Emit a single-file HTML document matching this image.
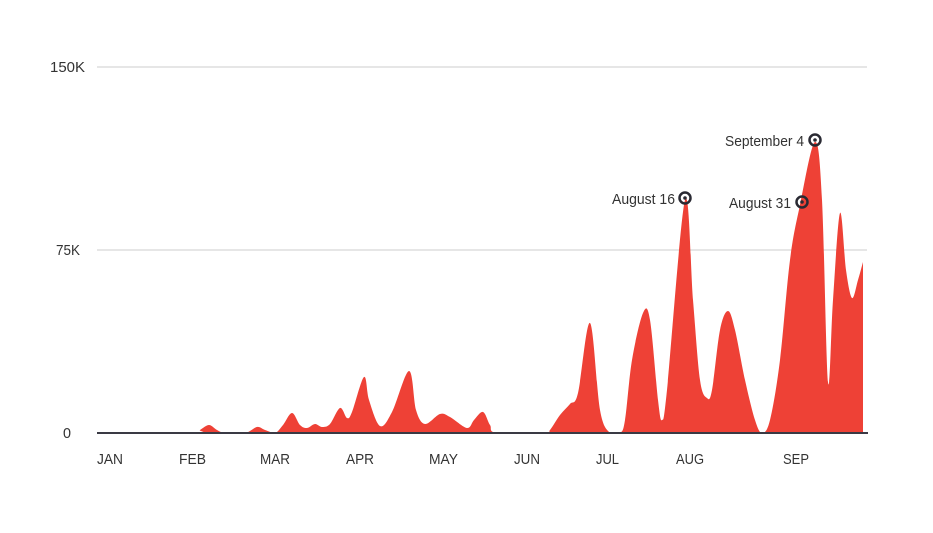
<!DOCTYPE html>
<html><head><meta charset="utf-8"><style>
body{margin:0;background:#fff;}
svg{display:block;}
text{font-family:"Liberation Sans",sans-serif;fill:#333;font-size:15px;}
</style></head><body>
<svg width="933" height="533" viewBox="0 0 933 533">
<line x1="97" y1="67" x2="867" y2="67" stroke="#ccc" stroke-width="1"/>
<line x1="97" y1="250" x2="867" y2="250" stroke="#ccc" stroke-width="1"/>
<text x="50" y="72" textLength="35" lengthAdjust="spacingAndGlyphs">150K</text>
<text x="56" y="255" textLength="24" lengthAdjust="spacingAndGlyphs">75K</text>
<text x="63" y="438" textLength="8" lengthAdjust="spacingAndGlyphs">0</text>
<path id="area" fill="#ee4136" d=""/>
<line x1="97" y1="433" x2="868" y2="433" stroke="#3a3a44" stroke-width="2"/>
<g>
<text x="97" y="464" textLength="26" lengthAdjust="spacingAndGlyphs">JAN</text>
<text x="179" y="464" textLength="27" lengthAdjust="spacingAndGlyphs">FEB</text>
<text x="260" y="464" textLength="30" lengthAdjust="spacingAndGlyphs">MAR</text>
<text x="346" y="464" textLength="28" lengthAdjust="spacingAndGlyphs">APR</text>
<text x="429" y="464" textLength="29" lengthAdjust="spacingAndGlyphs">MAY</text>
<text x="514" y="464" textLength="26" lengthAdjust="spacingAndGlyphs">JUN</text>
<text x="596" y="464" textLength="23" lengthAdjust="spacingAndGlyphs">JUL</text>
<text x="676" y="464" textLength="28" lengthAdjust="spacingAndGlyphs">AUG</text>
<text x="783" y="464" textLength="26" lengthAdjust="spacingAndGlyphs">SEP</text>
</g>
<g fill="none" stroke="#2a2a33" stroke-width="2.5">
<circle cx="685" cy="198" r="5.5"/><circle cx="802" cy="202" r="5.5"/><circle cx="815" cy="140" r="5.5"/>
</g>
<g fill="#2a2a33"><circle cx="685" cy="198" r="1.8"/><circle cx="802" cy="202" r="1.8"/><circle cx="815" cy="140" r="1.8"/></g>
<g>
<text x="612" y="204" textLength="63" lengthAdjust="spacingAndGlyphs">August 16</text>
<text x="729" y="208" textLength="62" lengthAdjust="spacingAndGlyphs">August 31</text>
<text x="725" y="146" textLength="79" lengthAdjust="spacingAndGlyphs">September 4</text>
</g>
</svg>
<script>
var p=[[97,433],[195,433],[200,430],[209,425],[217,430],[225,433],[245,433],[257,427],[265,430],[275,433],[283,425],[292,413],[300,425],[307,428],[315,424],[322,427],[330,424],[340,408],[347,418],[352,412],[364,377],[369,400],[380,426],[392,412],[409,371],[416,410],[425,424],[440,414],[450,417],[467,428],[474,420],[483,412],[490,425],[497,433],[545,433],[550,430],[560,415],[570,404],[578,393],[590,323],[600,410],[610,433],[620,433],[625,420],[632,360],[643,313],[650,320],[658,400],[662,420],[667,390],[685,200],[693,300],[700,380],[707,398],[712,390],[720,330],[728,311],[735,330],[745,380],[755,420],[762,433],[770,420],[780,360],[790,260],[800,205],[815,142],[822,200],[828,382],[833,300],[840,213],[846,270],[852,298],[858,280],[863,262]];
var d="M"+p[0][0]+","+p[0][1];
for(var i=0;i<p.length-1;i++){var a=p[i-1]||p[i],b=p[i],c=p[i+1],e=p[i+2]||c;
var c1x=b[0]+(c[0]-a[0])/6,c1y=b[1]+(c[1]-a[1])/6,c2x=c[0]-(e[0]-b[0])/6,c2y=c[1]-(e[1]-b[1])/6;
c1y=Math.min(c1y,433);c2y=Math.min(c2y,433);
d+=" C"+c1x+","+c1y+" "+c2x+","+c2y+" "+c[0]+","+c[1];}
d+=" L863,433 L97,433 Z";
document.getElementById("area").setAttribute("d",d);
</script>
</body></html>
